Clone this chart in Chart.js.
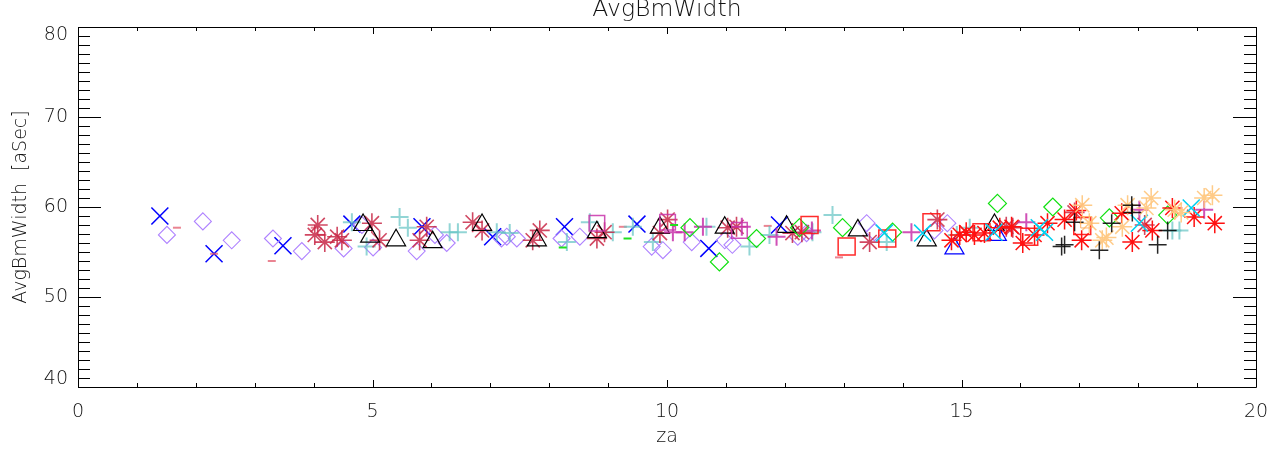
<!DOCTYPE html>
<html>
<head>
<meta charset="utf-8">
<script src="https://cdn.jsdelivr.net/npm/chart.js@4"></script>
<style>
  body { margin: 0; background: #fff; }
</style>
</head>
<body>
<canvas id="plot" width="1284" height="465"></canvas>
<script>
const titleText = 'AvgBmWidth';
const xTitle = 'za';
const yTitle = 'AvgBmWidth  [aSec]';
const xRange = [0, 20];
const yRange = [40, 80];

// values, one group per marker kind
const blueXx = [1.39, 2.31, 3.48, 4.65, 5.84, 7.04, 8.26, 9.49, 10.71, 11.91];
const blueXy = [59.0, 54.8, 55.7, 58.1, 57.8, 56.7, 57.8, 58.1, 55.4, 58.0];

const lavDiaX = [1.51, 2.12, 2.61, 3.31, 3.80, 4.51, 4.82, 5.01, 5.75, 6.06, 6.26, 7.19, 7.28, 7.45, 8.21, 8.52, 9.74, 9.93, 10.42, 10.98, 11.11, 12.22, 12.37, 13.39, 13.52, 14.54, 14.76];
const lavDiaY = [56.9, 58.4, 56.3, 56.5, 55.1, 55.4, 58.0, 55.5, 55.1, 56.9, 56.0, 56.5, 56.7, 56.5, 56.5, 56.7, 55.6, 55.2, 56.1, 56.3, 55.8, 56.7, 57.1, 58.2, 57.2, 57.4, 58.2];

const redDashX = [1.68, 2.31, 3.29, 4.02, 4.15, 9.25, 11.71, 12.92];
const redDashY = [57.7, 54.8, 54.0, 57.7, 56.9, 57.8, 57.9, 54.4];

const crimStarX = [4.07, 4.02, 4.19, 4.40, 4.48, 4.99, 5.12, 5.80, 5.92, 6.70, 6.86, 7.72, 7.84, 8.81, 8.94, 9.88, 10.01, 11.03, 11.18, 12.13, 12.29, 13.44, 14.59, 15.76, 15.87, 16.92, 18.11];
const crimStarY = [58.0, 56.9, 56.1, 56.7, 56.3, 58.2, 56.3, 56.3, 57.8, 58.3, 57.4, 56.3, 57.4, 56.5, 57.2, 57.1, 58.6, 57.7, 57.8, 57.1, 57.2, 56.1, 58.6, 57.8, 57.7, 59.4, 58.0];

const tealPlusX = [4.65, 4.90, 5.46, 5.60, 6.31, 6.45, 7.11, 7.33, 8.30, 8.69, 9.08, 9.42, 9.76, 10.67, 11.40, 11.74, 12.47, 12.81, 13.73, 14.92, 15.14, 18.58, 18.70];
const tealPlusY = [58.3, 55.6, 58.9, 57.7, 57.2, 57.2, 57.2, 57.1, 56.1, 58.3, 57.2, 57.8, 56.1, 57.8, 55.6, 56.9, 57.2, 59.1, 56.1, 56.9, 57.7, 57.4, 57.4];

const blackTriX = [4.84, 4.96, 5.40, 6.02, 6.86, 7.79, 8.81, 9.88, 10.98, 12.03, 13.24, 14.41, 15.56];
const blackTriY = [58.0, 56.7, 56.3, 56.1, 58.0, 56.3, 57.2, 57.7, 57.7, 57.8, 57.4, 56.3, 58.0];

const blueTriX = [14.88, 15.60];
const blueTriY = [55.4, 56.9];

const magSqX = [8.81, 10.01, 11.23];
const magSqY = [58.2, 58.3, 57.4];

const magPlusX = [10.10, 10.30, 10.61, 11.27, 11.86, 12.46, 14.15, 16.10, 18.02, 19.12];
const magPlusY = [57.2, 57.2, 57.8, 57.8, 56.7, 57.4, 57.2, 58.3, 59.7, 59.7];

const greenDiaX = [10.39, 10.89, 11.52, 12.25, 12.98, 13.83, 15.61, 16.55, 17.51, 18.50];
const greenDiaY = [57.7, 53.9, 56.5, 57.7, 57.7, 57.2, 60.4, 60.0, 58.8, 59.1];

const greenDashX = [8.23, 9.33, 10.12];
const greenDashY = [55.5, 56.5, 58.0];

const redSqX = [12.42, 13.05, 13.74, 14.49, 15.34, 16.15, 17.05];
const redSqY = [58.0, 55.6, 56.5, 58.3, 57.2, 56.7, 57.9];

const redStarX = [14.83, 14.97, 15.08, 15.22, 15.39, 15.65, 15.85, 16.04, 16.24, 16.46, 16.75, 16.95, 17.04, 17.72, 17.90, 18.24, 18.58, 18.95, 19.30];
const redStarY = [56.3, 56.9, 57.2, 56.9, 57.1, 57.7, 57.8, 56.0, 56.9, 58.2, 58.6, 59.6, 56.3, 59.3, 56.1, 57.4, 59.9, 58.9, 58.2];

const cyanXx = [13.69, 14.34, 15.55, 16.32, 16.41, 18.02, 18.90];
const cyanXy = [57.1, 57.1, 57.2, 57.7, 57.2, 58.2, 59.9];

const blackPlusX = [16.70, 16.75, 16.92, 17.34, 17.55, 17.89, 17.90, 18.33, 18.50];
const blackPlusY = [55.6, 55.8, 58.3, 55.2, 58.2, 60.2, 59.4, 55.8, 57.4];

const orangeStarX = [17.05, 17.17, 17.39, 17.46, 17.73, 17.82, 18.14, 18.22, 18.62, 18.73, 19.12, 19.26];
const orangeStarY = [60.2, 58.2, 56.3, 56.6, 57.8, 60.2, 59.9, 61.0, 59.7, 59.4, 61.0, 61.3];

const orangeSqX = [17.12];
const orangeSqY = [58.3];

function pts(xs, ys) {
  return xs.map((v, i) => ({x: v, y: ys[i]}));
}

function series(xs, ys, style, color, radius, width) {
  return {
    data: pts(xs, ys),
    pointStyle: style,
    pointRadius: radius,
    pointBorderColor: color,
    pointBackgroundColor: 'rgba(0,0,0,0)',
    pointBorderWidth: width || 1,
    showLine: false
  };
}

// IDL style box with inward ticks on all four sides
const idlAxes = {
  id: 'idlAxes',
  beforeDatasetsDraw(chart) {
    const {ctx, chartArea: a, scales: {x, y}} = chart;
    ctx.save();
    ctx.strokeStyle = '#000';
    ctx.lineWidth = 1;
    ctx.beginPath();
    ctx.rect(Math.round(a.left) + 0.5, Math.round(a.top) + 0.5, Math.round(a.right - a.left), Math.round(a.bottom - a.top));
    for (let v = xRange[0]; v <= xRange[1]; v++) {
      const px = Math.round(x.getPixelForValue(v)) + 0.5;
      const len = v % 5 === 0 ? 7 : 4;
      ctx.moveTo(px, a.bottom); ctx.lineTo(px, a.bottom - len);
      ctx.moveTo(px, a.top); ctx.lineTo(px, a.top + len);
    }
    for (let v = yRange[0]; v <= yRange[1]; v++) {
      const py = Math.round(y.getPixelForValue(v)) + 0.5;
      const len = v % 10 === 0 ? 23 : 12;
      ctx.moveTo(a.left, py); ctx.lineTo(a.left + len, py);
      ctx.moveTo(a.right, py); ctx.lineTo(a.right - len, py);
    }
    ctx.stroke();
    ctx.restore();
  }
};

const txt = '#111';
const font = {family: 'DejaVu Sans', size: 19, weight: 200};
const yTickFont = {family: 'DejaVu Sans', size: 19, weight: 200, lineHeight: 0.8};
const titleFont = {family: 'DejaVu Sans', size: 23.5, weight: 200, lineHeight: 1};

new Chart(document.getElementById('plot'), {
  type: 'scatter',
  data: {
    datasets: [
      series(orangeSqX, orangeSqY, 'rect', 'rgba(255,170,90,0.9)', 8, 1),
      series(blackPlusX, blackPlusY, 'cross', 'rgba(0,0,0,0.85)', 9, 1.5),
      series(orangeStarX, orangeStarY, 'star', 'rgba(255,200,130,0.95)', 10, 1.5),
      series(cyanXx, cyanXy, 'crossRot', '#00d0f0', 12, 1.5),
      series(redStarX, redStarY, 'star', '#ff1010', 10, 1.5),
      series(redSqX, redSqY, 'rect', 'rgba(255,20,20,0.9)', 12, 1.5),
      series(greenDashX, greenDashY, 'line', '#20e020', 4, 2),
      series(greenDiaX, greenDiaY, 'rectRot', '#10e010', 9, 1.2),
      series(magPlusX, magPlusY, 'cross', 'rgba(200,50,170,0.85)', 9, 2),
      series(magSqX, magSqY, 'rect', 'rgba(200,50,170,0.85)', 11, 1.5),
      series(blueTriX, blueTriY, 'triangle', '#0000ff', 11, 1.2),
      series(blackTriX, blackTriY, 'triangle', '#000', 11, 1.2),
      series(crimStarX, crimStarY, 'star', 'rgba(200,40,70,0.85)', 10, 1.6),
      series(tealPlusX, tealPlusY, 'cross', 'rgba(100,195,195,0.7)', 9, 2),
      series(redDashX, redDashY, 'line', 'rgba(225,80,100,0.7)', 4, 2),
      series(lavDiaX, lavDiaY, 'rectRot', 'rgb(175,130,255)', 8.5, 1.1),
      series(blueXx, blueXy, 'crossRot', '#0000ff', 12, 1.5)
    ]
  },
  options: {
    responsive: false,
    animation: false,
    layout: {padding: {top: 0, right: 28, bottom: 0, left: 0}},
    plugins: {
      legend: {display: false},
      tooltip: {enabled: false}
    },
    scales: {
      x: {
        type: 'linear',
        min: xRange[0],
        max: xRange[1],
        afterFit(s) { s.height = 78; },
        grid: {display: false, drawTicks: false},
        border: {display: false},
        ticks: {stepSize: 5, color: txt, font: font, padding: 14, maxRotation: 0},
        title: {display: true, text: xTitle, color: txt, font: font, padding: {top: 0, bottom: 16.6}}
      },
      // top axis only carries the plot title, centred over the plot box
      x2: {
        type: 'linear',
        position: 'top',
        min: xRange[0],
        max: xRange[1],
        afterFit(s) { s.height = 27; },
        grid: {display: false, drawTicks: false},
        border: {display: false},
        ticks: {display: false},
        title: {display: true, text: titleText, color: txt, font: titleFont, padding: {top: -1.5, bottom: 0}}
      },
      y: {
        type: 'linear',
        min: yRange[0],
        max: yRange[1],
        afterFit(s) { s.width = 78; },
        grid: {display: false, drawTicks: false},
        border: {display: false},
        ticks: {
          stepSize: 10,
          color: txt,
          font: yTickFont,
          padding: 10,
          // IDL keeps the end labels inside the box
          callback(v) {
            if (v === yRange[1]) return ['', String(v)];
            if (v === yRange[0]) return [String(v), ''];
            return String(v);
          }
        },
        title: {display: true, text: yTitle, color: txt, font: font, padding: {top: 9.6, bottom: 0}}
      }
    }
  },
  plugins: [idlAxes]
});
</script>
</body>
</html>
